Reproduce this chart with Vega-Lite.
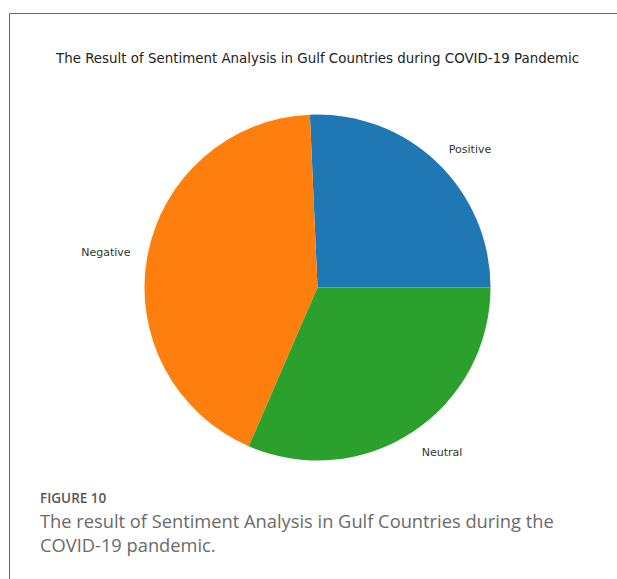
{
  "$schema": "https://vega.github.io/schema/vega-lite/v6.json",
  "background": "white",
  "autosize": {"type": "pad"},
  "padding": {"left": 8, "top": 12, "right": -10, "bottom": -5},
  "title": {
    "text": "FIGURE 10",
    "subtitle": ["The result of Sentiment Analysis in Gulf Countries during the", "COVID-19 pandemic."],
    "orient": "bottom",
    "anchor": "start",
    "frame": "bounds",
    "offset": -92,
    "dx": 31.5,
    "font": "Open Sans",
    "fontSize": 13.5,
    "fontWeight": 600,
    "color": "#555555",
    "subtitleFont": "Open Sans",
    "subtitleFontSize": 18.3,
    "subtitleFontWeight": 400,
    "subtitleColor": "#6a6a6a",
    "subtitleLineHeight": 24,
    "subtitlePadding": 9
  },
  "vconcat": [
    {
      "width": 617,
      "height": 570,
      "view": {"stroke": "#666666", "strokeWidth": 1, "fill": "white"},
      "title": {
        "text": "The Result of Sentiment Analysis in Gulf Countries during COVID-19 Pandemic",
        "orient": "top",
        "anchor": "middle",
        "frame": "group",
        "offset": -52,
        "font": "DejaVu Sans",
        "fontSize": 13.4,
        "fontWeight": "normal",
        "color": "#222222"
      },
      "data": {
        "values": [
          {"sentiment": "Positive", "value": 25.7},
          {"sentiment": "Negative", "value": 42.8},
          {"sentiment": "Neutral", "value": 31.5}
        ]
      },
      "transform": [
        {"window": [{"op": "row_number", "as": "idx"}]}
      ],
      "encoding": {
        "theta": {
          "field": "value",
          "type": "quantitative",
          "stack": true,
          "scale": {"range": [7.853982, 1.570796]}
        },
        "order": {"field": "idx", "type": "quantitative"}
      },
      "layer": [
        {
          "mark": {"type": "arc", "outerRadius": 173, "yOffset": -10.5},
          "encoding": {
            "color": {
              "field": "sentiment",
              "type": "nominal",
              "scale": {"domain": ["Positive", "Negative", "Neutral"], "range": ["#1f77b4", "#ff7f0e", "#2ca02c"]},
              "legend": null
            }
          }
        },
        {
          "mark": {
            "type": "text",
            "radius": 190,
            "yOffset": -10.5,
            "baseline": "middle",
            "align": {"expr": "datum.sentiment === 'Negative' ? 'right' : 'left'"},
            "dy": {"expr": "datum.sentiment === 'Neutral' ? 7 : 0"},
            "font": "DejaVu Sans",
            "fontSize": 11,
            "color": "#333333"
          },
          "encoding": {
            "text": {"field": "sentiment", "type": "nominal"}
          }
        }
      ]
    }
  ],
  "config": {
    "view": {"stroke": "#666666", "strokeWidth": 1},
    "concat": {"spacing": 0}
  }
}
